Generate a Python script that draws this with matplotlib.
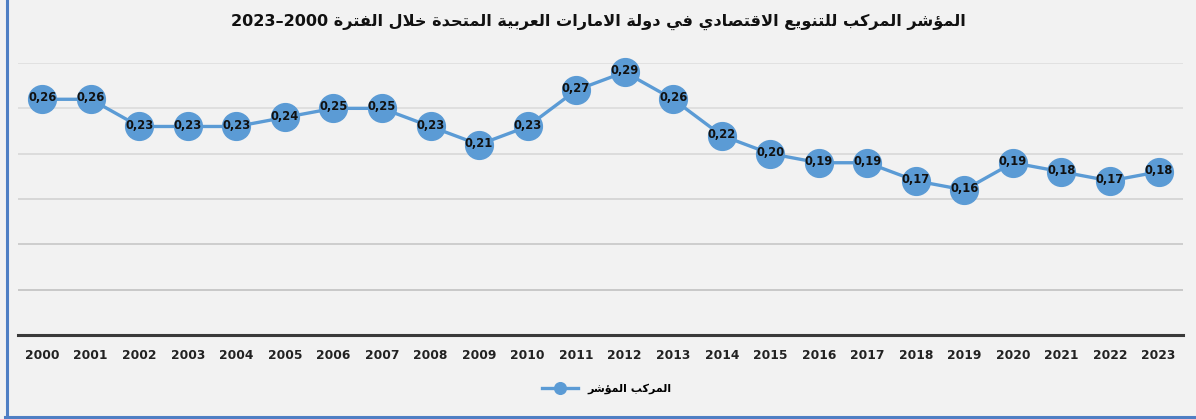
import matplotlib
matplotlib.use('Agg')
import matplotlib.pyplot as plt
from matplotlib.lines import Line2D

years = [str(y) for y in range(2000, 2024)]
index_values = [0.26, 0.26, 0.23, 0.23, 0.23, 0.24, 0.25, 0.25, 0.23, 0.21, 0.23, 0.27,
                0.29, 0.26, 0.22, 0.20, 0.19, 0.19, 0.17, 0.16, 0.19, 0.18, 0.17, 0.18]
grid_levels = [0.05, 0.10, 0.15, 0.20, 0.25, 0.30]

title_ar = 'المؤشر المركب للتنويع الاقتصادي في دولة الامارات العربية المتحدة خلال الفترة 2000–2023'
series_ar = 'المركب المؤشر'

# matplotlib has no Arabic shaping, so map letters to presentation forms by hand
DUAL = {'ب': 0xFE8F, 'ت': 0xFE95, 'ح': 0xFEA1, 'خ': 0xFEA5, 'ش': 0xFEB5, 'ص': 0xFEB9,
        'ع': 0xFEC9, 'ف': 0xFED1, 'ق': 0xFED5, 'ك': 0xFED9, 'ل': 0xFEDD, 'م': 0xFEE1,
        'ن': 0xFEE5, 'ه': 0xFEE9, 'ي': 0xFEF1}
RIGHT = {'ا': 0xFE8D, 'ؤ': 0xFE85, 'د': 0xFEA9, 'ر': 0xFEAD, 'و': 0xFEED, 'ة': 0xFE93,
         'لا': 0xFEFB}


def shape(word):
    units, i = [], 0
    while i < len(word):
        if word[i:i + 2] == 'لا':
            units.append('لا'); i += 2
        else:
            units.append(word[i]); i += 1
    out = []
    for k, u in enumerate(units):
        prev = k > 0 and units[k - 1] in DUAL
        nxt = u in DUAL and k + 1 < len(units)
        if u in DUAL:
            code = DUAL[u] + (3 if prev and nxt else 1 if prev else 2 if nxt else 0)
        else:
            code = RIGHT[u] + (1 if prev else 0)
        out.append(chr(code))
    return ''.join(reversed(out))


def rtl(text):
    words = []
    for w in reversed(text.split()):
        if w[0] in DUAL or w[0] in RIGHT or w[:2] == 'لا':
            words.append(shape(w))
        else:
            words.append('–'.join(reversed(w.split('–'))))
    return ' '.join(words)


def fmt(v):
    return f'{v:.2f}'.replace('.', ',')


BG = '#F2F2F2'
BLUE = '#5B9BD5'

fig = plt.figure(figsize=(11.96, 4.19), dpi=100, facecolor=BG)
ax = fig.add_axes([0.015, 0.2005, 0.974, 0.6491], facecolor=BG)

x = list(range(len(years)))
for lvl, c in zip(grid_levels, ['#BDBDBD', '#C4C4C4', '#D0D0D0', '#D6D6D6', '#DADADA', '#DCDCDC']):
    ax.axhline(lvl, color=c, lw=1.1, zorder=1)
ax.axhline(0, color='#3A3A3A', lw=2.2, zorder=2, clip_on=False)

ax.plot(x, index_values, color=BLUE, lw=2.4, marker='o', markersize=20,
        markerfacecolor=BLUE, markeredgecolor=BLUE, zorder=3, clip_on=False,
        label=rtl(series_ar))
for xi, v in zip(x, index_values):
    ax.annotate(fmt(v), (xi, v), xytext=(0, 1), textcoords='offset points',
                ha='center', va='center', fontsize=8.3, fontweight='bold',
                color='#111111', zorder=4, annotation_clip=False)

ax.set_xlim(-0.5, len(years) - 0.5)
ax.set_ylim(0, 0.30)
ax.set_xticks(x)
ax.set_xticklabels(years, fontsize=8.8, fontweight='bold', color='#222222')
ax.set_yticks([])
ax.tick_params(axis='x', length=0, pad=10)
for s in ax.spines.values():
    s.set_visible(False)

fig.text(0.5, 1 - 22 / 419, rtl(title_ar), ha='center', va='center',
         fontsize=11.6, fontweight='bold', color='#111111')

leg = fig.legend(loc='center', bbox_to_anchor=(0.507, 0.072), frameon=False,
                 markerscale=0.42, handlelength=3.3,
                 prop={'weight': 'bold', 'size': 8})

# chart frame: only the left and bottom edges are in view
fig.add_artist(Line2D([0.0055, 0.0055], [0.004, 1.0], transform=fig.transFigure,
                      color='#4F7FC4', lw=2.2))
fig.add_artist(Line2D([0.0043, 1.0], [0.004, 0.004], transform=fig.transFigure,
                      color='#4F7FC4', lw=2.2))

fig.savefig('out.png', dpi=100, facecolor=BG)
